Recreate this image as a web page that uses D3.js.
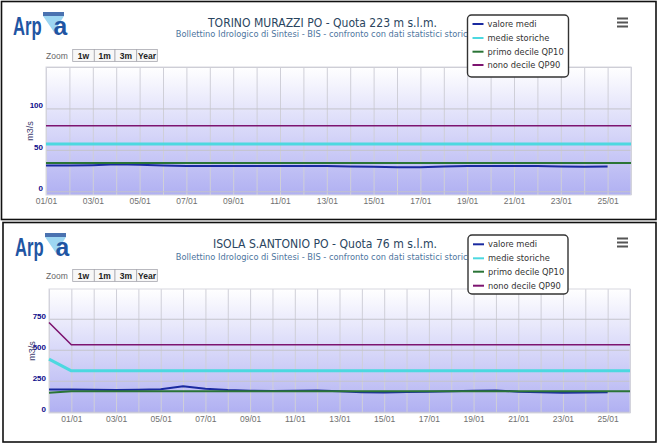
<!DOCTYPE html>
<html><head><meta charset="utf-8">
<script src="https://cdn.jsdelivr.net/npm/d3@7"></script>
<style>
body{margin:0;background:#fff}
svg{display:block}
text{font-family:"Liberation Sans",Arial,sans-serif}
.t{font-family:"DejaVu Sans",sans-serif}
</style></head>
<body><svg id="c" width="658" height="445"></svg>
<script>
// ---------- DATA ----------
const seriesNames = ["valore medi", "medie storiche", "primo decile QP10", "nono decile QP90"];
const seriesColors = ["#1a2aa0", "#4cd8e0", "#2a7436", "#7d1470"];
const seriesWidths = [2, 3, 2, 1.6];
const zoomButtons = ["1w", "1m", "3m", "Year"];

// day number of January (0 = 31/12)
const torinoDays = [1,2,3,4,5,6,7,8,9,10,11,12,13,14,15,16,17,18,19,20,21,22,23,24,25,26];
const torinoMedi = [31,31,31.5,32.5,32,31,30.5,30.5,30.5,30.5,30.5,30.5,30.5,30,29.5,29,29,30,30.5,30.5,30.5,30.5,30,29.5,30];
const torinoMedie = [57,57,57,57,57,57,57,57,57,57,57,57,57,57,57,57,57,57,57,57,57,57,57,57,57,57];
const torinoQP10 = [34,34,34,34,34,34,34,34,34,34,34,34,34,34,34,34,34,34,34,34,34,34,34,34,34,34];
const torinoQP90 = [79,79,79,79,79,79,79,79,79,79,79,79,79,79,79,79,79,79,79,79,79,79,79,79,79,79];
const torinoYTicks = [0, 50, 100];
const torinoYGrid = [0, 50, 100, 150];

const isolaDays = [0,1,2,3,4,5,6,7,8,9,10,11,12,13,14,15,16,17,18,19,20,21,22,23,24,25,26];
const isolaMedi = [180,180,178,175,177,182,205,185,175,170,168,170,172,165,157,156,160,162,165,170,172,162,158,153,156,158];
const isolaMedie = [425,330,330,330,330,330,330,330,330,330,330,330,330,330,330,330,330,330,330,330,330,330,330,330,330,330,330];
const isolaQP10 = [153,166,166,166,166,166,166,166,166,166,166,166,166,166,166,166,166,166,166,166,166,166,166,166,166,166,166];
const isolaQP90 = [720,540,540,540,540,540,540,540,540,540,540,540,540,540,540,540,540,540,540,540,540,540,540,540,540,540,540];
const isolaYTicks = [0, 250, 500, 750];
const isolaYGrid = [0, 250, 500, 750];

const xTickDays = [1,3,5,7,9,11,13,15,17,19,21,23,25];
const xTickLabels = ["01/01","03/01","05/01","07/01","09/01","11/01","13/01","15/01","17/01","19/01","21/01","23/01","25/01"];

const subtitleText = "Bollettino Idrologico di Sintesi - BIS - confronto con dati statistici storici";

// ---------- DRAW ----------
const svg = d3.select("#c");
const defs = svg.append("defs");
const grad = defs.append("linearGradient").attr("id","pbg").attr("x1",0).attr("y1",0).attr("x2",0).attr("y2",1);
grad.append("stop").attr("offset","0%").attr("stop-color","#ffffff");
grad.append("stop").attr("offset","100%").attr("stop-color","#b0b0f2");

function drawPanel(cfg) {
  const g = svg.append("g");
  const p = cfg.plot;
  // frame
  g.append("rect").attr("x",cfg.frame[0]).attr("y",cfg.frame[1])
    .attr("width",cfg.frame[2]-cfg.frame[0]).attr("height",cfg.frame[3]-cfg.frame[1])
    .attr("fill","none").attr("stroke","#111").attr("stroke-width",1.6);

  const x = d3.scaleLinear().domain([cfg.days[0], cfg.days[cfg.days.length-1]]).range([p.x0, p.x1]);
  const y = d3.scaleLinear().domain(cfg.yDomain).range([p.y1, p.y0]);

  // plot background
  g.append("rect").attr("x",p.x0).attr("y",p.y0).attr("width",p.x1-p.x0).attr("height",p.y1-p.y0)
    .attr("fill","url(#pbg)");

  // vertical grid
  const vg = g.append("g").attr("transform",`translate(0,${p.y1})`)
    .call(d3.axisBottom(x).tickValues(cfg.days).tickSize(-(p.y1-p.y0)).tickFormat(""));
  vg.select(".domain").remove();
  vg.selectAll("line").attr("stroke","#cfcfd8").attr("stroke-width",1);
  // horizontal grid
  const hg = g.append("g").attr("transform",`translate(${p.x0},0)`)
    .call(d3.axisLeft(y).tickValues(cfg.yGrid).tickSize(-(p.x1-p.x0)).tickFormat(""));
  hg.select(".domain").remove();
  hg.selectAll("line").attr("stroke","#c4c4cc").attr("stroke-width",1);

  // plot border
  g.append("rect").attr("x",p.x0).attr("y",p.y0).attr("width",p.x1-p.x0).attr("height",p.y1-p.y0)
    .attr("fill","none").attr("stroke","#d8d8e0").attr("stroke-width",1);

  // x labels
  const xa = g.append("g").attr("transform",`translate(0,${p.y1})`)
    .call(d3.axisBottom(x).tickValues(xTickDays).tickSize(0).tickFormat((d,i)=>xTickLabels[i]));
  xa.select(".domain").remove();
  xa.selectAll("text").attr("y", cfg.xLabelBase - p.y1).attr("dy",0)
    .attr("fill","#707070").style("font-size","8.5px").style("font-family","'Liberation Sans',Arial,sans-serif");

  // y labels
  const ya = g.append("g").attr("transform",`translate(${cfg.yLabelX},0)`)
    .call(d3.axisLeft(y).tickValues(cfg.yTicks).tickSize(0).tickPadding(0));
  ya.select(".domain").remove();
  ya.selectAll("text").attr("dy",0).attr("x",0).attr("y",-0.5)
    .attr("fill","#0c0c8a").style("font-size","8px").style("font-weight","bold")
    .style("font-family","'Liberation Sans',Arial,sans-serif");

  // y title
  g.append("text").attr("transform",`translate(${cfg.yTitle[0]},${cfg.yTitle[1]}) rotate(-90)`)
    .attr("text-anchor","middle").attr("dy","0.35em")
    .attr("fill","#3d3d70").style("font-size","9px").text("m3/s");

  // series
  const line = d3.line().x(d=>x(d[0])).y(d=>y(d[1]));
  cfg.series.forEach((vals,si)=>{
    const pts = vals.map((v,i)=>[cfg.days[i], v]);
    g.append("path").datum(pts).attr("d",line).attr("fill","none")
      .attr("stroke",seriesColors[si]).attr("stroke-width",seriesWidths[si])
      .attr("stroke-linejoin","round");
  });

  // title & subtitle
  g.append("text").attr("class","t").attr("x",cfg.title.cx).attr("y",cfg.title.base)
    .attr("text-anchor","middle").attr("fill","#2a4560").style("font-size","13px")
    .attr("textLength",cfg.title.len).attr("lengthAdjust","spacingAndGlyphs").text(cfg.title.text);
  g.append("text").attr("class","t").attr("x",cfg.sub.cx).attr("y",cfg.sub.base)
    .attr("text-anchor","middle").attr("fill","#4d759e").style("font-size","9px")
    .attr("textLength",cfg.sub.len).attr("lengthAdjust","spacingAndGlyphs").text(subtitleText);

  // zoom buttons
  const zb = cfg.zoom;
  g.append("text").attr("x",zb.labelX).attr("y",zb.y1-2.5).attr("fill","#666")
    .style("font-size","8.5px").text("Zoom");
  zoomButtons.forEach((b,i)=>{
    const bx0 = zb.xs[i], bx1 = zb.xs[i+1];
    g.append("rect").attr("x",bx0).attr("y",zb.y0).attr("width",bx1-bx0).attr("height",zb.y1-zb.y0)
      .attr("fill","#f7f7f7").attr("stroke","#a8a8b0").attr("stroke-width",0.8);
    g.append("text").attr("x",(bx0+bx1)/2).attr("y",zb.y1-2.5).attr("text-anchor","middle")
      .attr("fill","#222").style("font-size","8.5px").style("font-weight","bold").text(b);
  });

  // hamburger
  cfg.menuYs.forEach(my=>{
    g.append("rect").attr("x",617).attr("y",my-1).attr("width",11).attr("height",2).attr("fill","#555");
  });

  // legend
  const L = cfg.legend;
  g.append("rect").attr("x",L.x0).attr("y",L.y0).attr("width",L.x1-L.x0).attr("height",L.y1-L.y0)
    .attr("rx",4).attr("fill","#fff").attr("stroke","#333").attr("stroke-width",1.4);
  seriesNames.forEach((n,i)=>{
    const cy = L.ys[i];
    g.append("line").attr("x1",L.x0+5).attr("x2",L.x0+16).attr("y1",cy).attr("y2",cy)
      .attr("stroke",seriesColors[i]).attr("stroke-width",2);
    g.append("text").attr("class","t").attr("x",L.x0+20).attr("y",cy+3).attr("fill","#333")
      .style("font-size","8.3px").text(n);
  });

  // logo: "Arp" (horizontally condensed) + funnel mark + "a"
  const lg = g.append("g").attr("transform",`translate(${cfg.logo[0]},${cfg.logo[1]})`);
  lg.append("polygon").attr("points","30,1 51,1 41,17").attr("fill","#9dd6f2");
  lg.append("rect").attr("x",30).attr("y",-3).attr("width",21).attr("height",4).attr("fill","#4a72b0");
  lg.append("text").attr("transform","translate(0,20) scale(0.64,1)").attr("fill","#1f55a3")
    .style("font-size","26px").style("font-weight","bold").text("Arp");
  lg.append("text").attr("transform","translate(40.5,20) scale(0.95,1)").attr("fill","#1f55a3")
    .style("font-size","26px").style("font-weight","bold").text("a");
}

drawPanel({
  frame:[1.5,1.5,656,219.5],
  plot:{x0:46,x1:631,y0:67,y1:195},
  days:torinoDays, yDomain:[-4.5,150], yTicks:torinoYTicks, yGrid:torinoYGrid,
  series:[torinoMedi, torinoMedie, torinoQP10, torinoQP90],
  xLabelBase:204, yLabelX:43, yTitle:[30,131],
  title:{text:"TORINO MURAZZI PO - Quota 223 m s.l.m.", cx:322.5, base:26.5, len:229},
  sub:{cx:322.8, base:36.5, len:294},
  zoom:{labelX:46, xs:[72.7,94.3,115,136.7,157.3], y0:49.5, y1:61.5},
  menuYs:[18.5,22.5,26.5],
  legend:{x0:467.5,x1:568.5,y0:15,y1:77, ys:[24,38,51.7,65]},
  logo:[13,15]
});

drawPanel({
  frame:[3,222.5,656,442],
  plot:{x0:49,x1:630,y0:289,y1:413},
  days:isolaDays, yDomain:[-10,990], yTicks:isolaYTicks, yGrid:isolaYGrid,
  series:[isolaMedi, isolaMedie, isolaQP10, isolaQP90],
  xLabelBase:421.5, yLabelX:46, yTitle:[31.5,351],
  title:{text:"ISOLA S.ANTONIO PO - Quota 76 m s.l.m.", cx:325, base:247.7, len:224},
  sub:{cx:322.8, base:259.5, len:294},
  zoom:{labelX:46, xs:[72.7,94.3,115,136.7,157.3], y0:269.5, y1:281.5},
  menuYs:[238.5,242.5,246.5],
  legend:{x0:468,x1:568,y0:235,y1:294, ys:[244.3,258.3,271.7,285.7]},
  logo:[15,236]
});
</script>
</body></html>
